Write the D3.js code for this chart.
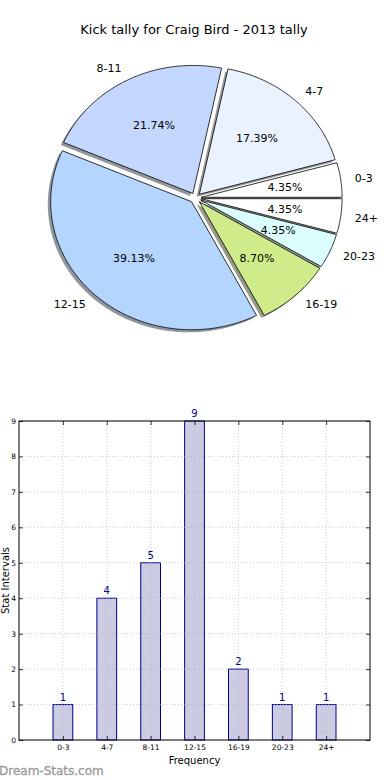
<!DOCTYPE html>
<html>
<head>
<meta charset="utf-8">
<script src="https://cdn.jsdelivr.net/npm/d3@7"></script>
<style>
html,body{margin:0;padding:0;background:#fff;}
svg{display:block;font-family:"DejaVu Sans",sans-serif;}
</style>
</head>
<body>
<svg id="chart" width="390" height="780"></svg>
<script>
const categories = ["0-3","4-7","8-11","12-15","16-19","20-23","24+"];
const counts = [1,4,5,9,2,1,1];
const pieColors = ["#ffffff","#eaf1ff","#c4d8ff","#b3d5ff","#d0ec8a","#dbffff","#ffffff"];
const yTicks = [0,1,2,3,4,5,6,7,8,9];
const titleText = "Kick tally for Craig Bird - 2013 tally";

const svg = d3.select("#chart");

// ---------- Title ----------
svg.append("text").attr("x",194).attr("y",34).attr("text-anchor","middle")
  .attr("font-size",13).attr("fill","#000").text(titleText);

// ---------- Pie (matplotlib-style, elliptical axes) ----------
const cx = 195.5, cy = 198, rx = 141, ry = 128;
const xs = d3.scaleLinear().domain([-1,1]).range([cx-rx, cx+rx]);
const ys = d3.scaleLinear().domain([-1,1]).range([cy+ry, cy-ry]);
const explode = 0.04;
const total = d3.sum(counts);
const fracs = counts.map(c => c/total);
let theta = 0;
const slices = fracs.map((f,i) => {
  const t1 = theta, t2 = theta + f*2*Math.PI;
  theta = t2;
  const tm = (t1+t2)/2;
  return {i, f, t1, t2, tm, ox: explode*Math.cos(tm), oy: explode*Math.sin(tm)};
});
const line = d3.line().x(d => xs(d[0])).y(d => ys(d[1]));
function slicePts(s, dx, dy){
  const pts = [[s.ox+dx, s.oy+dy]];
  const n = Math.max(4, Math.ceil((s.t2-s.t1)/0.01));
  for(let k=0;k<=n;k++){
    const t = s.t1 + (s.t2-s.t1)*k/n;
    pts.push([s.ox+dx+Math.cos(t), s.oy+dy+Math.sin(t)]);
  }
  pts.push([s.ox+dx, s.oy+dy]);
  return pts;
}
const pieG = svg.append("g");
// shadows first (below all wedges)
pieG.selectAll("path.shadow").data(slices).join("path")
  .attr("class","shadow")
  .attr("d", s => line(slicePts(s,-0.02,-0.02)) + "Z")
  .attr("fill", s => {
    const c = d3.rgb(pieColors[s.i]);
    return d3.rgb(255-0.55*(255-c.r*0.3), 255-0.55*(255-c.g*0.3), 255-0.55*(255-c.b*0.3));
  })
  .attr("stroke","none");
pieG.selectAll("path.wedge").data(slices).join("path")
  .attr("class","wedge")
  .attr("d", s => line(slicePts(s,0,0)) + "Z")
  .attr("fill", s => pieColors[s.i])
  .attr("stroke","#000").attr("stroke-width",0.8).attr("stroke-linejoin","miter");
// labels
pieG.selectAll("text.lab").data(slices).join("text")
  .attr("class","lab")
  .attr("x", s => xs(s.ox + 1.1*Math.cos(s.tm)))
  .attr("y", s => ys(s.oy + 1.1*Math.sin(s.tm)))
  .attr("dy","0.35em")
  .attr("text-anchor", s => Math.cos(s.tm) > 0 ? "start" : "end")
  .attr("font-size",11).text(s => categories[s.i]);
pieG.selectAll("text.pct").data(slices).join("text")
  .attr("class","pct")
  .attr("x", s => xs(s.ox + 0.6*Math.cos(s.tm)))
  .attr("y", s => ys(s.oy + 0.6*Math.sin(s.tm)))
  .attr("dy","0.35em")
  .attr("text-anchor","middle")
  .attr("font-size",11).text(s => (s.f*100).toFixed(2) + "%");

// ---------- Bar chart ----------
const L = 19, R = 370, T = 421, B = 740;
const x = d3.scaleLinear().domain([0,8]).range([L,R]);
const y = d3.scaleLinear().domain([0,9]).range([B,T]);
const pos = categories.map((c,i) => i+1);
const barW = 0.45;
const bg = svg.append("g");

bg.selectAll("rect.bar").data(counts).join("rect")
  .attr("class","bar")
  .attr("x",(d,i) => x(pos[i]-barW/2))
  .attr("width", x(barW)-x(0))
  .attr("y", d => y(d))
  .attr("height", d => y(0)-y(d))
  .attr("fill","#cbcbe2").attr("stroke","#00008b").attr("stroke-width",1);

// grid (drawn over bars, like the reference)
const grid = bg.append("g").attr("stroke","#b0b0b0").attr("stroke-width",0.8)
  .attr("stroke-dasharray","1,2").attr("opacity",0.8);
yTicks.forEach(v => grid.append("line").attr("x1",L).attr("x2",R).attr("y1",y(v)).attr("y2",y(v)));
pos.forEach(p => grid.append("line").attr("x1",x(p)).attr("x2",x(p)).attr("y1",T).attr("y2",B));

// axes via d3
const yAxisL = d3.axisLeft(y).tickValues(yTicks).tickSizeInner(-4).tickSizeOuter(0).tickPadding(3);
const yAxisR = d3.axisRight(y).tickValues(yTicks).tickSizeInner(-4).tickSizeOuter(0).tickFormat("");
const xAxisB = d3.axisBottom(x).tickValues(pos).tickSizeInner(-4).tickSizeOuter(0).tickPadding(5)
  .tickFormat(d => categories[d-1]);
const xAxisT = d3.axisTop(x).tickValues(pos).tickSizeInner(-4).tickSizeOuter(0).tickFormat("");

function styleAxis(g){
  g.select(".domain").remove();
  g.selectAll("line").attr("stroke","#000").attr("stroke-width",0.8);
  g.selectAll("text").attr("font-size",7.5).attr("fill","#000").attr("font-family","DejaVu Sans, sans-serif");
}
bg.append("g").attr("transform",`translate(${L},0)`).call(yAxisL).call(styleAxis);
bg.append("g").attr("transform",`translate(${R},0)`).call(yAxisR).call(styleAxis);
bg.append("g").attr("transform",`translate(0,${B})`).call(xAxisB).call(styleAxis);
bg.append("g").attr("transform",`translate(0,${T})`).call(xAxisT).call(styleAxis);

// frame
bg.append("rect").attr("x",L).attr("y",T).attr("width",R-L).attr("height",B-T)
  .attr("fill","none").attr("stroke","#000").attr("stroke-width",1);

// value labels
bg.selectAll("text.val").data(counts).join("text")
  .attr("class","val")
  .attr("x",(d,i) => x(pos[i]))
  .attr("y", d => y(d) - 4)
  .attr("text-anchor","middle").attr("font-size",10).attr("fill","#00008b")
  .text(d => d);

// axis labels
svg.append("text").attr("x", (L+R)/2).attr("y",764).attr("text-anchor","middle")
  .attr("font-size",10).text("Frequency");
svg.append("text").attr("transform",`translate(8.5,${(T+B)/2}) rotate(-90)`)
  .attr("text-anchor","middle").attr("font-size",10).text("Stat Intervals");

// watermark
svg.append("text").attr("x",-1).attr("y",775).attr("font-size",12)
  .attr("fill","#999999").attr("stroke","#999999").attr("stroke-width",0.3)
  .text("Dream-Stats.com");
</script>
</body>
</html>
